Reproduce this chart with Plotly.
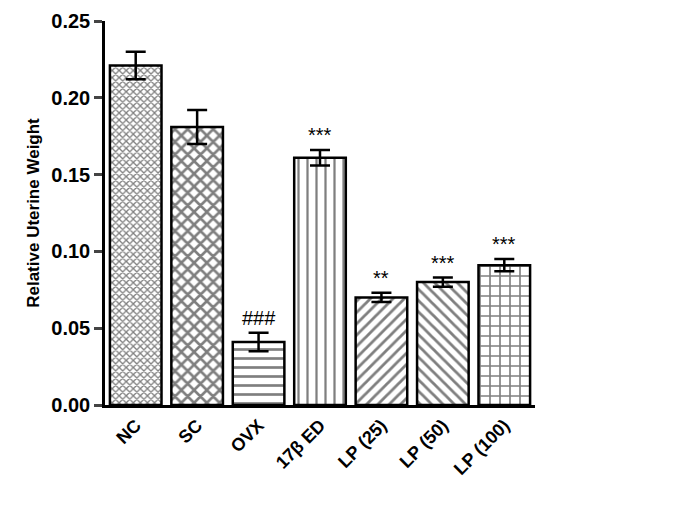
import plotly.graph_objects as go

cats = ["NC", "SC", "OVX", "17β ED", "LP (25)", "LP (50)", "LP (100)"]
vals = [0.221, 0.181, 0.041, 0.161, 0.070, 0.080, 0.091]
errs = [0.009, 0.011, 0.006, 0.005, 0.003, 0.003, 0.004]
marks = ["", "", "###", "***", "**", "***", "***"]
shapes = ["x", "x", "-", "|", "/", "\\", "+"]
sizes = [5, 9, 9, 9, 8, 8, 10]
solid = [0.45, 0.5, 0.3, 0.25, 0.35, 0.35, 0.3]

fig = go.Figure(go.Bar(
    x=cats, y=vals, width=0.84,
    marker=dict(color="white", line=dict(color="black", width=2.5),
                pattern=dict(shape=shapes, size=sizes, solidity=solid, fgcolor="black", bgcolor="white")),
    error_y=dict(type="data", array=errs, color="black", thickness=2.5, width=10),
))
for c, v, e, m in zip(cats, vals, errs, marks):
    if m:
        fig.add_annotation(x=c, y=v + e, text=m, showarrow=False, yanchor="bottom", yshift=2,
                           font=dict(size=20, color="black", family="Liberation Sans"))
fig.update_layout(
    width=685, height=505, margin=dict(l=97, r=158, t=13, b=108),
    plot_bgcolor="white", paper_bgcolor="white", showlegend=False,
    font=dict(family="Liberation Sans", color="black"),
    xaxis=dict(showline=True, linecolor="black", linewidth=2.5, tickangle=-45, automargin=False,
               tickfont=dict(size=18), ticks="",
               tickvals=cats, ticktext=["<b>%s</b>" % c for c in cats]),
    yaxis=dict(range=[0, 0.25], tickvals=[0, 0.05, 0.1, 0.15, 0.2, 0.25],
               ticktext=["<b>%.2f</b>" % v for v in [0, 0.05, 0.1, 0.15, 0.2, 0.25]],
               showline=True, linecolor="black", automargin=False,
               linewidth=2.5, ticks="outside", tickwidth=2.5, ticklen=8, showgrid=False, zeroline=False,
               tickfont=dict(size=20),
               title=dict(text="<b>Relative Uterine Weight</b>", font=dict(size=17), standoff=8)),
)
fig.write_html("out.html")
